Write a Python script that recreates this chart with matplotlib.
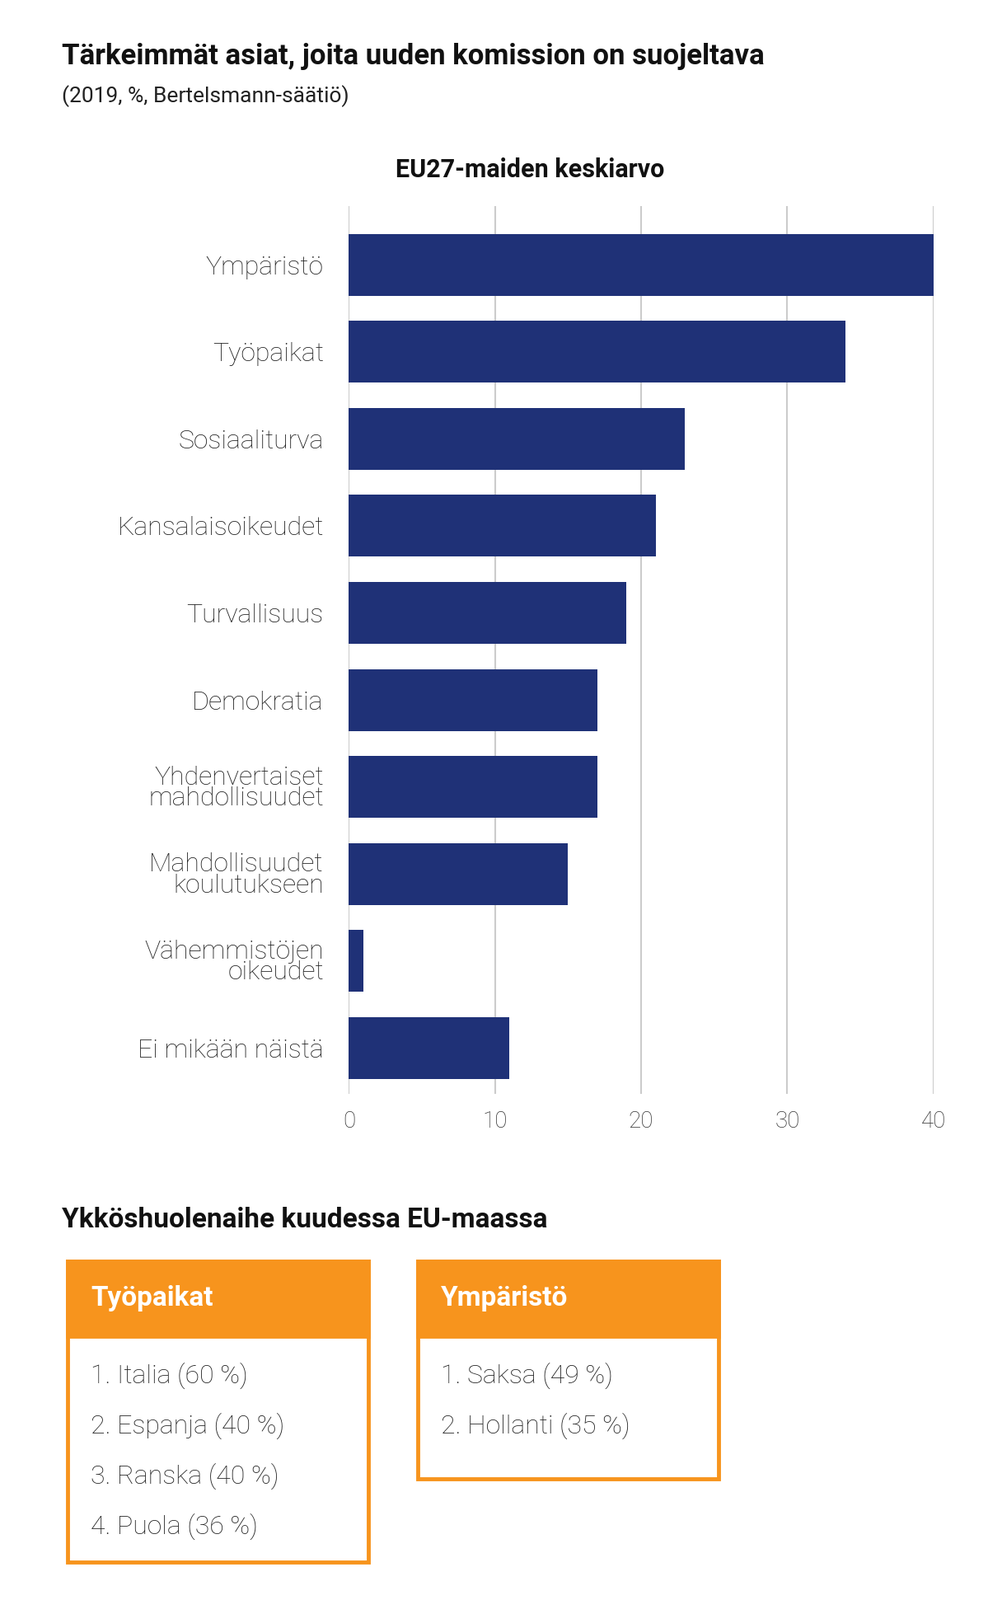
import matplotlib
matplotlib.use("Agg")
import matplotlib.pyplot as plt
from matplotlib.patches import Rectangle

categories = ["Ympäristö", "Työpaikat", "Sosiaaliturva", "Kansalaisoikeudet", "Turvallisuus",
              "Demokratia", "Yhdenvertaiset\nmahdollisuudet", "Mahdollisuudet\nkoulutukseen",
              "Vähemmistöjen\noikeudet", "Ei mikään näistä"]
values = [40, 34, 23, 21, 19, 17, 17, 15, 1, 11]
ticks = [0, 10, 20, 30, 40]
box1_title = "Työpaikat"
box1_items = ["1. Italia (60 %)", "2. Espanja (40 %)", "3. Ranska (40 %)", "4. Puola (36 %)"]
box2_title = "Ympäristö"
box2_items = ["1. Saksa (49 %)", "2. Hollanti (35 %)"]

W, H = 960, 1553
plt.rcParams["font.family"] = "Roboto"
fig = plt.figure(figsize=(11.99, 19.41), dpi=100)
def fx(x): return x / W
def fy(y): return 1 - y / H

fig.text(fx(60), fy(55), "Tärkeimmät asiat, joita uuden komission on suojeltava", fontsize=25,
         fontweight="bold", va="center", ha="left", color="#111")
fig.text(fx(60), fy(93), "(2019, %, Bertelsmann-säätiö)", fontsize=19, va="center", ha="left", color="#222")
fig.text(fx(515), fy(165), "EU27-maiden keskiarvo", fontsize=22, fontweight="bold", va="center", ha="center", color="#111")

ax = fig.add_axes([fx(339), fy(1062), fx(907) - fx(339), fy(200) - fy(1062)])
y = list(range(len(categories)))
ax.barh(y, values, height=0.71, color="#1f3177", zorder=3)
ax.set_xlim(0, 40)
ax.set_ylim(9.53, -0.675)
ax.set_xticks(ticks)
ax.set_xticklabels([str(t) for t in ticks], fontsize=20, fontweight="light", color="#333")
ax.set_yticks(y)
ax.set_yticklabels(categories, fontsize=23, fontweight="light", color="#222", linespacing=0.85)
ax.tick_params(length=0, pad=22)
ax.tick_params(axis="x", pad=14)
for s in ax.spines.values():
    s.set_visible(False)
ax.grid(axis="x", color="#cccccc", lw=1.5, zorder=0)
ax.set_axisbelow(True)

fig.text(fx(60), fy(1184), "Ykköshuolenaihe kuudessa EU-maassa", fontsize=24, fontweight="bold",
         va="center", ha="left", color="#111")

orange = "#f7941d"
def box(x0, x1, y0, y1, title, items):
    fig.patches.append(Rectangle((fx(x0), fy(y1)), fx(x1) - fx(x0), fy(y0) - fy(y1),
                                 transform=fig.transFigure, fill=False, ec=orange, lw=3.5))
    fig.patches.append(Rectangle((fx(x0), fy(1297)), fx(x1) - fx(x0), fy(y0) - fy(1297),
                                 transform=fig.transFigure, fc=orange, ec=orange, lw=3.5))
    fig.text(fx(x0 + 22), fy(1260), title, fontsize=24, fontweight="bold", color="white", va="center")
    for i, t in enumerate(items):
        fig.text(fx(x0 + 22), fy(1335 + 49 * i), t, fontsize=23, fontweight="light", color="#222", va="center")

box(66, 358, 1224, 1516, box1_title, box1_items)
box(406, 698, 1224, 1435, box2_title, box2_items)

fig.savefig("out.png", dpi=100, facecolor="white")
